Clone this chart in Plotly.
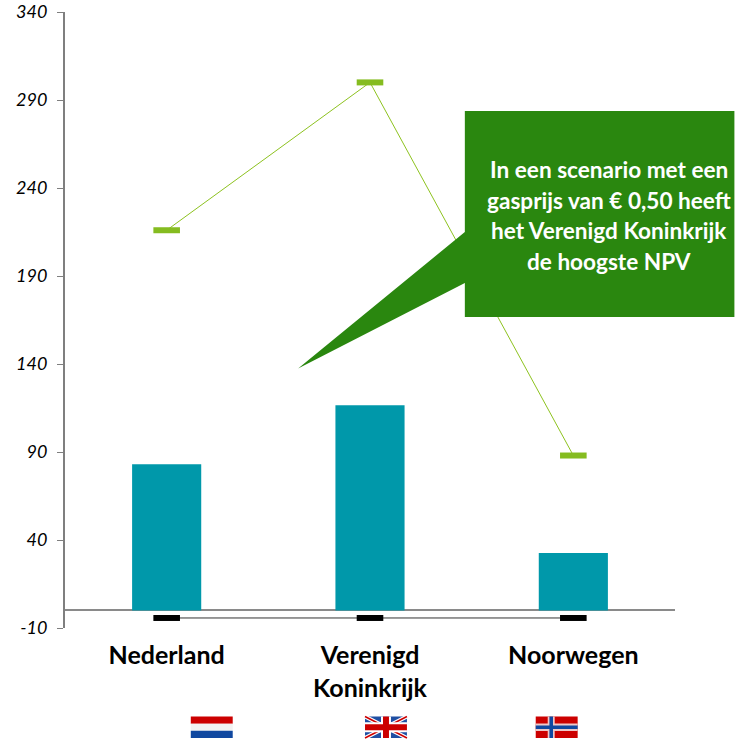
import plotly.graph_objects as go

categories = ["Nederland", "Verenigd<br>Koninkrijk", "Noorwegen"]
bar_values = [83, 116.5, 32.6]
green_values = [216, 300, 88]
black_values = [-4.3, -4.3, -4.3]
y_ticks = [-10, 40, 90, 140, 190, 240, 290, 340]
y_tick_labels = ["-10", "40", "90", "140", "190", "240", "290", "340"]
callout_lines = ["In een scenario met een", "gasprijs van € 0,50 heeft", "het Verenigd Koninkrijk", "de hoogste NPV"]

W, H = 735, 739
L, R, T, B = 64.5, 675.5, 12, 628


def px(x):
    return (x - L) / (R - L)


def py(y):
    return (B - y) / (B - T)


def rect(x0, y0, x1, y1, color):
    return dict(type="rect", xref="paper", yref="paper", x0=px(x0), x1=px(x1), y0=py(y0), y1=py(y1),
                fillcolor=color, line_width=0, layer="above")


def poly(points, color, width=0, line=None):
    p = "M " + " L ".join(f"{px(x):.5f} {py(y):.5f}" for x, y in points) + (" Z" if width == 0 else "")
    return dict(type="path", xref="paper", yref="paper", path=p,
                fillcolor=color if width == 0 else None,
                line=dict(width=width, color=line or color), layer="above")


fig = go.Figure()
fig.add_bar(x=categories, y=bar_values, width=0.34, marker=dict(color="#0098AA", line_width=0), showlegend=False)
fig.add_scatter(x=categories, y=green_values, mode="lines+markers", showlegend=False,
                line=dict(color="#8DC21F", width=1),
                marker=dict(symbol="line-ew", size=19, line=dict(color="#85BC20", width=6)))
fig.add_scatter(x=categories, y=black_values, mode="lines+markers", showlegend=False,
                line=dict(color="#333333", width=1),
                marker=dict(symbol="line-ew", size=19, line=dict(color="#000000", width=6)))

green = "#2A870F"
shapes = [
    poly([(465, 111), (735, 111), (735, 317), (465, 317), (465, 283), (298, 368.5), (465, 232)], green),
]
# Nederlandse vlag
fx, fy, fw, fh = 190.5, 716.5, 42, 21.5
shapes += [rect(fx, fy, fx + fw, fy + fh / 3, "#CC0000"),
           rect(fx, fy + fh / 3, fx + fw, fy + 2 * fh / 3, "#F2F2F2"),
           rect(fx, fy + 2 * fh / 3, fx + fw, fy + fh, "#1048A0")]
# Britse vlag
fx = 365
shapes += [rect(fx, fy, fx + fw, fy + fh, "#1F4FA3"),
           poly([(fx, fy), (fx + fw, fy + fh)], "#FFFFFF", 4),
           poly([(fx + fw, fy), (fx, fy + fh)], "#FFFFFF", 4),
           poly([(fx, fy), (fx + fw, fy + fh)], "#CC0000", 1.5),
           poly([(fx + fw, fy), (fx, fy + fh)], "#CC0000", 1.5),
           rect(fx + fw / 2 - 5, fy, fx + fw / 2 + 5, fy + fh, "#FFFFFF"),
           rect(fx, fy + fh / 2 - 5, fx + fw, fy + fh / 2 + 5, "#FFFFFF"),
           rect(fx + fw / 2 - 3, fy, fx + fw / 2 + 3, fy + fh, "#CC0000"),
           rect(fx, fy + fh / 2 - 3, fx + fw, fy + fh / 2 + 3, "#CC0000")]
# Noorse vlag
fx = 536
shapes += [rect(fx, fy, fx + fw, fy + fh, "#CC0000"),
           rect(fx + 12, fy, fx + 19, fy + fh, "#EFC8C8"),
           rect(fx, fy + 7, fx + fw, fy + 14.5, "#EFC8C8"),
           rect(fx + 13.7, fy, fx + 17.3, fy + fh, "#1048A0"),
           rect(fx, fy + 9, fx + fw, fy + 12.5, "#1048A0")]

annotations = [dict(xref="paper", yref="paper", x=px(609.5), y=py(169.5 + 30.5 * i), xanchor="center",
                    yanchor="middle", text=line, showarrow=False, align="center",
                    font=dict(family="Lato", size=22.6, color="white", weight="bold"))
               for i, line in enumerate(callout_lines)]

fig.update_layout(
    width=W, height=H, autosize=False,
    margin=dict(l=L, r=W - R, t=T, b=H - B, pad=0),
    paper_bgcolor="white", plot_bgcolor="white", showlegend=False,
    shapes=shapes,
    xaxis=dict(type="category", range=[-0.5, 2.5], showgrid=False, zeroline=False, showline=False, ticks="",
               automargin=False,
               tickfont=dict(family="Lato", size=25, color="#000000", weight="bold"), ticklabelstandoff=10,
               tickangle=0),
    yaxis=dict(range=[-10, 340], tickvals=y_ticks, ticktext=y_tick_labels, showgrid=False, showline=True,
               linecolor="#7F7F7F", linewidth=2, automargin=False,
               zeroline=True, zerolinecolor="#8A8A8A", zerolinewidth=2,
               ticks="outside", ticklen=6, tickcolor="#7F7F7F", tickwidth=1, ticklabelstandoff=6,
               tickfont=dict(family="Lato", size=18, color="#000000", style="italic")),
    annotations=annotations,
)
fig.write_html("out.html", config={"displayModeBar": False}, post_script="document.body.style.margin='0';")
